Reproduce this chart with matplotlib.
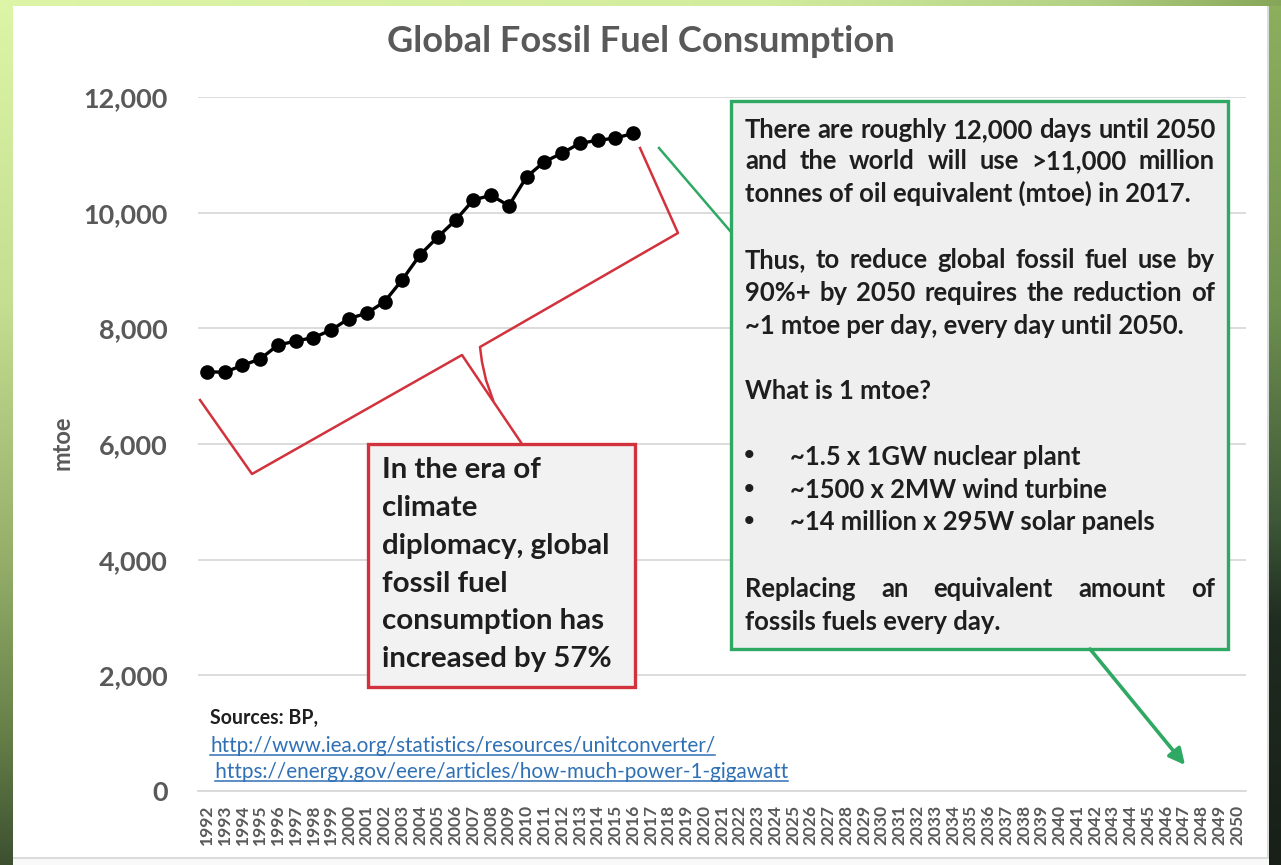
import numpy as np
import matplotlib
matplotlib.use("Agg")
import matplotlib.pyplot as plt
import matplotlib.colors as mcolors
from matplotlib.patches import Rectangle, FancyArrowPatch
from matplotlib.lines import Line2D
from matplotlib.transforms import Affine2D

W, H, DPI = 1281, 865, 100

# ---------------- data ----------------
years = list(range(1992, 2051))
consumption_years = list(range(1992, 2017))
consumption = [7250, 7240, 7360, 7470, 7710, 7780, 7840, 7970, 8170, 8260,
               8460, 8840, 9270, 9580, 9870, 10220, 10300, 10120, 10620, 10880,
               11030, 11200, 11250, 11290, 11370]
y_ticks = [0, 2000, 4000, 6000, 8000, 10000, 12000]
y_tick_labels = ["0", "2,000", "4,000", "6,000", "8,000", "10,000", "12,000"]

title_text = "Global Fossil Fuel Consumption"
y_label = "mtoe"

red_note = ["In the era of", "climate", "diplomacy, global", "fossil fuel",
            "consumption has", "increased by 57%"]

# (text, justified)
green_note = [
    ("There are roughly 12,000 days until 2050", True),
    ("and the world will use >11,000 million", True),
    ("tonnes of oil equivalent (mtoe) in 2017.", False),
    ("Thus, to reduce global fossil fuel use by", True),
    ("90%+ by 2050 requires the reduction of", True),
    ("~1 mtoe per day, every day until 2050.", False),
    ("What is 1 mtoe?", False),
    ("Replacing an equivalent amount of", True),
    ("fossils fuels every day.", False),
]
bullets = ["~1.5 x 1GW nuclear plant", "~1500 x 2MW wind turbine",
           "~14 million x 295W solar panels"]

sources_label = "Sources: BP,"
source_links = ["http://www.iea.org/statistics/resources/unitconverter/",
                " https://energy.gov/eere/articles/how-much-power-1-gigawatt"]

# ---------------- style ----------------
FONT = "Lato"
GRAY = "#595959"
GRID = "#d9d9d9"
RED = "#d2323c"
GREEN = "#2ea862"
LINK = "#2f70b5"
INK = "#1e1e1e"

fig = plt.figure(figsize=(W / DPI, H / DPI), dpi=DPI)
fig.patch.set_facecolor("white")

# pixel coordinates measured from the top-left corner
PIX = Affine2D().scale(1, -1).translate(0, H)


def ramp(stops, n):
    pos = [s[0] for s in stops]
    cols = np.array([mcolors.to_rgb(s[1]) for s in stops])
    t = np.linspace(0, 1, n)
    return np.stack([np.interp(t, pos, cols[:, k]) for k in range(3)], axis=1)


# slide frame behind the chart
bg = np.ones((H, W, 3))
left_col = ramp([(0, "#dcf5a6"), (0.35, "#c4de92"), (0.65, "#94ae69"),
                 (0.85, "#667f48"), (1, "#3c5030")], H)
bg[:, :13] = left_col[:, None, :]
top_row = ramp([(0, "#dcf5a6"), (0.6, "#d2ec9e"), (0.85, "#b3d184"),
                (1, "#86a657")], W)
bg[:6, 13:] = top_row[None, 13:, :]
right_col = ramp([(0, "#8db05e"), (0.35, "#6f9150"), (0.6, "#3e5838"),
                  (0.72, "#1f2c20"), (1, "#182018")], H)
bg[6:, 1269:] = right_col[6:, None, :]
bg[6:857, 1267:1269] = 0.86
bg[857:859, 13:1269] = 0.86
bg[859:, 13:1269] = 0.98
bg_ax = fig.add_axes([0, 0, 1, 1], zorder=-10)
bg_ax.imshow(bg, aspect="auto", interpolation="nearest")
bg_ax.set_axis_off()

renderer = fig.canvas.get_renderer()


def text_width(s, size, weight):
    t = fig.text(0, 0, s, fontsize=size, fontfamily=FONT, fontweight=weight)
    w = t.get_window_extent(renderer).width
    t.remove()
    return w


def fit_size(s, target_px, weight):
    return 20.0 * target_px / text_width(s, 20.0, weight)


# ---------------- chart ----------------
ax = fig.add_axes([198 / W, (H - 791) / H, (1246 - 198) / W, (791 - 97) / H])
ax.patch.set_alpha(0)

x_idx = np.arange(len(years))
hist_idx = [years.index(y) for y in consumption_years]
ax.plot(hist_idx, consumption, color="black", lw=2.4, marker="o", ms=9.5,
        zorder=5)

ax.set_xlim(-0.5, len(years) - 0.5)
ax.set_ylim(0, 12000)
ax.set_yticks(y_ticks, y_tick_labels)
ax.set_xticks(x_idx, [str(y) for y in years], rotation=90)
ax.grid(axis="y", color=GRID, lw=1.3)
ax.set_axisbelow(True)
for s in ["left", "right", "top"]:
    ax.spines[s].set_visible(False)
ax.spines["bottom"].set_color(GRID)
ax.spines["bottom"].set_linewidth(1.3)

ytick_size = fit_size("12,000", 85, "bold")
xtick_size = fit_size("1992", 40, "bold")
ax.tick_params(length=0)
ax.tick_params(axis="y", pad=21.6, labelsize=ytick_size, labelcolor=GRAY)
ax.tick_params(axis="x", pad=10, labelsize=xtick_size, labelcolor=GRAY)
for lab in ax.get_xticklabels() + ax.get_yticklabels():
    lab.set_fontfamily(FONT)
    lab.set_fontweight("bold")

fig.text(641, 42, title_text, transform=PIX, ha="center", va="center",
         fontsize=fit_size(title_text, 508, "bold"), fontfamily=FONT,
         fontweight="bold", color=GRAY)
fig.text(62, 443, y_label, transform=PIX, ha="center", va="center",
         rotation=90, fontsize=fit_size(y_label, 55, "bold"),
         fontfamily=FONT, fontweight="bold", color=GRAY)

# ---------------- red bracket and note ----------------
brace_a = [(200, 400), (252, 474), (462, 355), (522, 444)]
brace_b = [(640, 148), (678, 233), (480, 347), (482, 362), (486, 380),
           (493, 400)]
for pts in (brace_a, brace_b):
    xs, ys = zip(*pts)
    fig.add_artist(Line2D(xs, ys, transform=PIX, color=RED, lw=1.8,
                          solid_joinstyle="round", zorder=6))

fig.add_artist(Rectangle((368, 444), 267, 243, transform=PIX,
                         facecolor="#f2f2f2", edgecolor=RED, lw=2.4, zorder=7))
red_size = fit_size("consumption has", 222, "bold")
for line, yc in zip(red_note, [470, 508, 546, 584, 621, 659]):
    fig.text(382, yc, line, transform=PIX, ha="left", va="center",
             fontsize=red_size, fontfamily=FONT, fontweight="bold",
             color=INK, zorder=8)

# ---------------- green note ----------------
fig.add_artist(Line2D([659, 731], [148, 232], transform=PIX, color=GREEN,
                      lw=1.8, zorder=6))
fig.add_artist(Rectangle((731, 101), 497, 548, transform=PIX,
                         facecolor="#efefef", edgecolor=GREEN, lw=2.4,
                         zorder=7))
fig.add_artist(FancyArrowPatch((1090, 649), (1185, 765), transform=PIX,
                               arrowstyle="-|>", mutation_scale=24, lw=2.6,
                               color=GREEN, shrinkA=0, shrinkB=0, zorder=7))

green_size = fit_size(green_note[0][0], 470, "bold")
X0, X1 = 745, 1215


def place_line(text, y, justify):
    kw = dict(transform=PIX, va="center", fontsize=green_size,
              fontfamily=FONT, fontweight="bold", color=INK, zorder=8)
    words = text.split()
    if not justify or len(words) < 2:
        fig.text(X0, y, text, ha="left", **kw)
        return
    widths = [text_width(w, green_size, "bold") for w in words]
    gap = (X1 - X0 - sum(widths)) / (len(words) - 1)
    x = X0
    for w, wd in zip(words, widths):
        fig.text(x, y, w, ha="left", **kw)
        x += wd + gap


plain_rows = [130, 161, 193, 260, 293, 326, 391, 589, 622]
for (line, just), yc in zip(green_note, plain_rows):
    place_line(line, yc, just)
for line, yc in zip(bullets, [457, 490, 522]):
    fig.text(749, yc, "\u2022", transform=PIX, ha="center", va="center",
             fontsize=green_size * 0.9, fontfamily="DejaVu Sans",
             fontweight="bold", color=INK, zorder=8)
    fig.text(790, yc, line, transform=PIX, ha="left", va="center",
             fontsize=green_size, fontfamily=FONT, fontweight="bold",
             color=INK, zorder=8)

# ---------------- sources ----------------
fig.text(210, 724, sources_label, transform=PIX, ha="left", va="baseline",
         fontsize=fit_size(sources_label, 108, "bold"), fontfamily=FONT,
         fontweight="bold", color=INK)
link_size = fit_size(source_links[0], 505, "normal")
for link, (x, yb) in zip(source_links, [(210, 752), (210, 778)]):
    t = fig.text(x, yb, link, transform=PIX, ha="left", va="baseline",
                 fontsize=link_size, fontfamily=FONT, color=LINK)
    bb = t.get_window_extent(renderer)
    lead = text_width(" ", link_size, "normal") if link.startswith(" ") else 0
    fig.add_artist(Line2D([x + lead, bb.x1], [yb + 3, yb + 3], transform=PIX,
                          color=LINK, lw=1.1))

fig.savefig("out.png", dpi=DPI)
